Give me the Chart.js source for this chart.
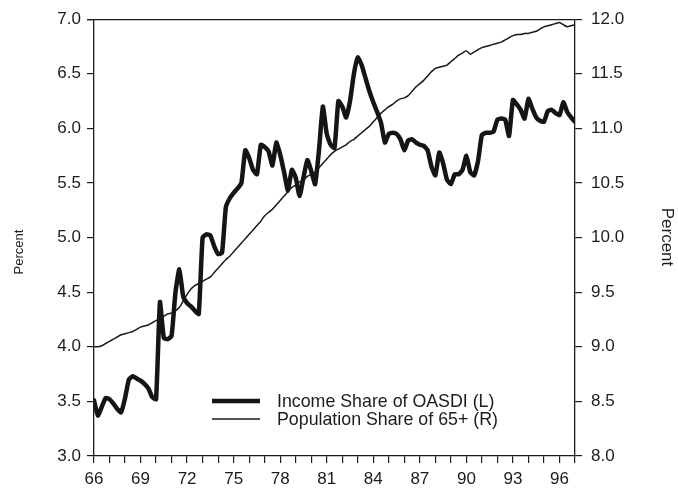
<!DOCTYPE html>
<html>
<head>
<meta charset="utf-8">
<script src="https://cdn.jsdelivr.net/npm/chart.js@4.4.1/dist/chart.umd.min.js"></script>
<style>
  html, body { margin: 0; padding: 0; background: #fff; }
  #wrap { width: 678px; height: 489px; position: relative; }
</style>
</head>
<body>
<div id="wrap"><canvas id="c" width="678" height="489"></canvas></div>
<script>
// Quarterly observations, 1966 Q1 through 1997 Q1 (years shown as two digits)
const startYear = 66;
const quarterCount = 125;
const periods = [];
for (let i = 0; i < quarterCount; i++) periods.push(startYear + i / 4);

// Income share of OASDI, percent (left axis)
const incomeShare = [
  3.51, 3.37, 3.45, 3.53,   // 66
  3.52, 3.48, 3.43, 3.40,   // 67
  3.53, 3.70, 3.73, 3.71,   // 68
  3.69, 3.66, 3.62, 3.54,   // 69
  3.52, 4.41, 4.08, 4.07,   // 70
  4.10, 4.50, 4.71, 4.46,   // 71
  4.40, 4.37, 4.33, 4.30,   // 72
  5.00, 5.03, 5.02, 4.92,   // 73
  4.85, 4.86, 5.28, 5.36,   // 74
  5.41, 5.45, 5.50, 5.80,   // 75
  5.73, 5.62, 5.58, 5.85,   // 76
  5.83, 5.79, 5.66, 5.87,   // 77
  5.76, 5.60, 5.43, 5.62,   // 78
  5.55, 5.38, 5.55, 5.71,   // 79
  5.61, 5.49, 5.80, 6.20,   // 80
  5.95, 5.85, 5.82, 6.25,   // 81
  6.20, 6.10, 6.25, 6.50,   // 82
  6.65, 6.58, 6.46, 6.34,   // 83
  6.24, 6.15, 6.05, 5.87,   // 84
  5.95, 5.96, 5.95, 5.90,   // 85
  5.80, 5.89, 5.90, 5.87,   // 86
  5.85, 5.84, 5.80, 5.65,   // 87
  5.57, 5.78, 5.68, 5.53,   // 88
  5.49, 5.58, 5.58, 5.62,   // 89
  5.75, 5.60, 5.57, 5.70,   // 90
  5.94, 5.96, 5.96, 5.97,   // 91
  6.08, 6.09, 6.08, 5.93,   // 92
  6.26, 6.22, 6.17, 6.09,   // 93
  6.27, 6.18, 6.10, 6.07,   // 94
  6.06, 6.16, 6.17, 6.14,   // 95
  6.12, 6.24, 6.15, 6.10,   // 96
  6.06                      // 97
];

// Population share of persons 65 and over, percent (right axis)
const popShare65 = [
  9.00, 9.00, 9.01, 9.03,       // 66
  9.05, 9.07, 9.09, 9.11,       // 67
  9.12, 9.13, 9.14, 9.16,       // 68
  9.18, 9.19, 9.20, 9.22,       // 69
  9.24, 9.26, 9.28, 9.30,       // 70
  9.31, 9.33, 9.36, 9.42,       // 71
  9.48, 9.53, 9.56, 9.58,       // 72
  9.60, 9.62, 9.64, 9.68,       // 73
  9.72, 9.76, 9.80, 9.83,       // 74
  9.87, 9.91, 9.95, 9.99,       // 75
  10.03, 10.07, 10.11, 10.15,   // 76
  10.20, 10.23, 10.26, 10.30,   // 77
  10.34, 10.38, 10.42, 10.46,   // 78
  10.48, 10.51, 10.53, 10.56,   // 79
  10.58, 10.60, 10.64, 10.68,   // 80
  10.72, 10.76, 10.79, 10.81,   // 81
  10.83, 10.85, 10.88, 10.90,   // 82
  10.93, 10.96, 10.99, 11.02,   // 83
  11.06, 11.10, 11.14, 11.17,   // 84
  11.20, 11.22, 11.25, 11.27,   // 85
  11.28, 11.30, 11.34, 11.38,   // 86
  11.41, 11.44, 11.48, 11.52,   // 87
  11.55, 11.56, 11.57, 11.58,   // 88
  11.61, 11.64, 11.67, 11.69,   // 89
  11.71, 11.68, 11.70, 11.72,   // 90
  11.74, 11.75, 11.76, 11.77,   // 91
  11.78, 11.79, 11.81, 11.83,   // 92
  11.85, 11.86, 11.86, 11.87,   // 93
  11.87, 11.88, 11.89, 11.91,   // 94
  11.93, 11.94, 11.95, 11.96,   // 95
  11.97, 11.95, 11.93, 11.94,   // 96
  11.95                         // 97
];

// Labelled year ticks on the horizontal axis
const xTickLabels = ['66', '69', '72', '75', '78', '81', '84', '87', '90', '93', '96'];
const seriesLabels = ['Income Share of OASDI (L)', 'Population Share of 65+ (R)'];
const axisTitle = 'Percent';

const INK = '#1c1c1c';
const FONT = '"Liberation Sans", Arial, Helvetica, sans-serif';

// Closed box around the plotting area
const frame = {
  id: 'frame',
  beforeDatasetsDraw(chart) {
    const { ctx, chartArea: a } = chart;
    ctx.save();
    ctx.strokeStyle = INK;
    ctx.lineWidth = 1.3;
    ctx.beginPath();
    ctx.moveTo(a.left - 7, a.top + 0.5);
    ctx.lineTo(a.right, a.top + 0.5);
    ctx.stroke();
    ctx.restore();
  }
};

// Vertical "Percent" titles on both sides
const sideTitles = {
  id: 'sideTitles',
  afterDraw(chart) {
    const { ctx } = chart;
    ctx.save();
    ctx.fillStyle = INK;
    ctx.textAlign = 'center';
    ctx.textBaseline = 'middle';
    ctx.font = '13px ' + FONT;
    ctx.translate(19, 252);
    ctx.rotate(-Math.PI / 2);
    ctx.fillText(axisTitle, 0, 0);
    ctx.restore();
    ctx.save();
    ctx.fillStyle = INK;
    ctx.textAlign = 'center';
    ctx.textBaseline = 'middle';
    ctx.font = '17px ' + FONT;
    ctx.translate(667, 237);
    ctx.rotate(Math.PI / 2);
    ctx.fillText(axisTitle, 0, 0);
    ctx.restore();
  }
};

// Legend placed inside the plot, lower middle
const insetLegend = {
  id: 'insetLegend',
  afterDraw(chart) {
    const { ctx } = chart;
    const x0 = 212, x1 = 260, tx = 277;
    const rows = [401, 419];
    ctx.save();
    chart.data.datasets.forEach((ds, i) => {
      const y = rows[i];
      ctx.strokeStyle = ds.borderColor;
      ctx.lineWidth = ds.borderWidth;
      ctx.beginPath();
      ctx.moveTo(x0, y);
      ctx.lineTo(x1, y);
      ctx.stroke();
      ctx.fillStyle = INK;
      ctx.font = '17.8px ' + FONT;
      ctx.textAlign = 'left';
      ctx.textBaseline = 'middle';
      ctx.fillText(ds.label, tx, y + 1);
    });
    ctx.restore();
  }
};

const tickFont = { family: FONT, size: 17 };

new Chart(document.getElementById('c'), {
  type: 'line',
  data: {
    datasets: [
      {
        label: seriesLabels[0],
        data: incomeShare.map((v, i) => ({ x: periods[i], y: v })),
        yAxisID: 'yL',
        borderColor: '#151515',
        borderWidth: 4.5,
        pointRadius: 0,
        tension: 0.15,
        borderJoinStyle: 'round',
        borderCapStyle: 'round'
      },
      {
        label: seriesLabels[1],
        data: popShare65.map((v, i) => ({ x: periods[i], y: v })),
        yAxisID: 'yR',
        borderColor: '#1a1a1a',
        borderWidth: 1.5,
        pointRadius: 0,
        tension: 0.2
      }
    ]
  },
  options: {
    responsive: false,
    animation: false,
    devicePixelRatio: 1,
    layout: { padding: { top: 15, left: 0, right: 0, bottom: 0 } },
    plugins: { legend: { display: false }, tooltip: { enabled: false } },
    scales: {
      x: {
        type: 'linear',
        min: 66,
        max: 97,
        afterFit(s) { s.height = 33; },
        border: { display: true, color: INK, width: 1.3 },
        grid: { drawOnChartArea: false, drawTicks: true, tickLength: 7, color: INK, tickColor: INK, lineWidth: 1.2 },
        ticks: {
          stepSize: 1,
          autoSkip: false,
          maxRotation: 0,
          padding: 6,
          color: INK,
          font: tickFont,
          callback: v => (xTickLabels.includes(String(v)) ? String(v) : '')
        }
      },
      yL: {
        position: 'left',
        min: 3,
        max: 7,
        afterFit(s) { s.width = 94; },
        border: { display: true, color: INK, width: 1.3 },
        grid: { drawOnChartArea: false, drawTicks: true, tickLength: 7, tickColor: INK, lineWidth: 1.2 },
        ticks: { stepSize: 0.5, padding: 6, color: INK, font: tickFont, callback: v => v.toFixed(1) }
      },
      yR: {
        position: 'right',
        min: 8,
        max: 12,
        afterFit(s) { s.width = 103; },
        border: { display: true, color: INK, width: 1.3 },
        grid: { drawOnChartArea: false, drawTicks: true, tickLength: 7, tickColor: INK, lineWidth: 1.2 },
        ticks: { stepSize: 0.5, padding: 9, color: INK, font: tickFont, callback: v => v.toFixed(1) }
      }
    }
  },
  plugins: [frame, sideTitles, insetLegend]
});
</script>
</body>
</html>
